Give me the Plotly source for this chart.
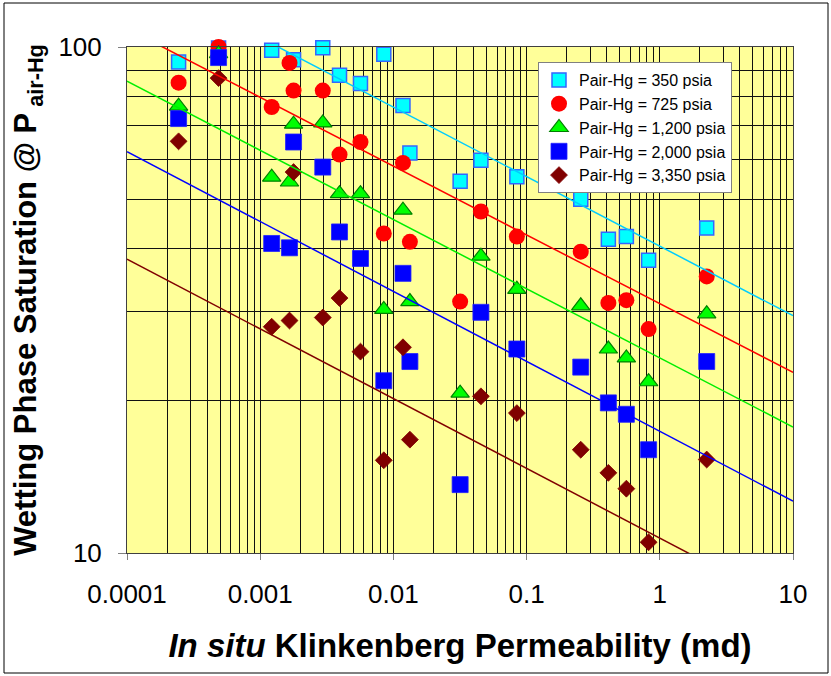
import plotly.graph_objects as go

# ---- data ----
perm = [2.44e-4, 4.87e-4, 1.22e-3, 1.66e-3, 1.78e-3, 2.95e-3, 3.94e-3, 5.66e-3,
        8.47e-3, 1.18e-2, 1.33e-2, 3.17e-2, 4.54e-2, 8.45e-2, 0.255, 0.411,
        0.561, 0.824, 2.25]

sw_350 = [93.4, 99.5, 98.5, None, 94.4, 99.7, 87.9, 84.7, 96.7, 76.6, 61.7,
          54.3, 59.7, 55.4, 50.0, 41.7, 42.2, 37.9, 43.9]
sw_725 = [85.0, 100.0, 76.1, 93.0, 82.0, 82.0, 61.3, 64.9, 42.8, 59.0, 41.2,
          31.4, 47.3, 42.2, 39.4, 31.2, 31.6, 27.7, 35.2]
sw_1200 = [76.4, 97.0, 55.3, 54.1, 70.4, 70.8, 51.3, 51.3, 30.3, 47.6, 31.4,
           20.7, 38.6, 33.2, 30.8, 25.3, 24.3, 21.8, 29.7]
sw_2000 = [72.2, 95.3, 40.9, 40.1, 64.9, 57.9, 43.1, 38.2, 21.9, 35.7, 23.9,
           13.65, 29.9, 25.3, 23.3, 19.8, 18.8, 16.0, 23.9]
sw_3350 = [65.1, 86.8, 28.0, 28.8, 56.6, 29.2, 31.9, 25.0, 15.25, 25.5, 16.75,
           None, 20.4, 18.9, 16.0, 14.4, 13.4, 10.5, 15.3]

series_names = ["Pair-Hg = 350 psia", "Pair-Hg = 725 psia", "Pair-Hg = 1,200 psia",
                "Pair-Hg = 2,000 psia", "Pair-Hg = 3,350 psia"]

# power-law trend lines  S = a * k^b
trend_a = [40.4, 31.1, 24.3, 17.4, 10.7]
trend_b = [-0.1374, -0.1359, -0.1367, -0.1382, -0.1378]
trend_k = [1e-4, 10.0]

x_tickvals = [1e-4, 1e-3, 1e-2, 1e-1, 1, 10]
x_ticktext = ["0.0001", "0.001", "0.01", "0.1", "1", "10"]
y_tickvals = [10, 100]
y_ticktext = ["10", "100"]

# ---- styles ----
series_values = [sw_350, sw_725, sw_1200, sw_2000, sw_3350]
symbols = ["square", "circle", "triangle-up", "square", "diamond"]
fills = ["#00FFFF", "#FF0000", "#00FF00", "#0000FF", "#800000"]
edges = ["#3366FF", "#FF0000", "#008000", "#2020FF", "#800000"]
edge_w = [1.5, 0, 1.2, 0.8, 0.8]
sizes = [14, 16, 16, 16, 13]
line_colors = ["#00CCFF", "#FF0000", "#00EE00", "#0000FF", "#800000"]

FONT = "Liberation Sans, Arial, sans-serif"
W, H = 831, 676
ML, MR, MT, MB = 127, 38, 47, 123

fig = go.Figure()

for vals, name, sym, fc, ec, ew, sz in zip(series_values, series_names, symbols,
                                            fills, edges, edge_w, sizes):
    fig.add_trace(go.Scatter(
        x=perm, y=vals, mode="markers", name=name, cliponaxis=False,
        marker=dict(symbol=sym, size=sz, color=fc,
                    line=dict(color=ec, width=ew)),
    ))

for a, b, lc in zip(trend_a, trend_b, line_colors):
    fig.add_trace(go.Scatter(
        x=trend_k, y=[a * k ** b for k in trend_k], mode="lines",
        line=dict(color=lc, width=1.5), showlegend=False, hoverinfo="skip",
    ))

pw = W - ML - MR
ph = H - MT - MB
def px_to_paper_x(p):
    return (p - ML) / pw
def px_to_paper_y(p):
    return (H - MB - p) / ph

fig.add_shape(type="rect", xref="paper", yref="paper",
              x0=px_to_paper_x(4), x1=px_to_paper_x(828),
              y0=px_to_paper_y(673), y1=px_to_paper_y(3),
              line=dict(color="black", width=1), layer="below")

axis_common = dict(
    type="log", showline=True, mirror=True, linecolor="#404040", linewidth=1,
    showgrid=True, gridcolor="#111111", gridwidth=1,
    ticks="outside", tickcolor="#808080", tickwidth=1,
    tickfont=dict(family=FONT, size=26, color="black"),
    zeroline=False,
    minor=dict(dtick="D1", showgrid=True, gridcolor="#111111", gridwidth=1, ticks=""),
)

fig.update_layout(
    width=W, height=H,
    margin=dict(l=ML, r=MR, t=MT, b=MB, autoexpand=False),
    paper_bgcolor="white", plot_bgcolor="#FFFF99",
    font=dict(family=FONT, color="black"),
    showlegend=True,
    legend=dict(
        x=px_to_paper_x(538), y=px_to_paper_y(62), xanchor="left", yanchor="top",
        bgcolor="white", bordercolor="#808080", borderwidth=1,
        font=dict(family=FONT, size=16, color="black"),
        entrywidth=190, entrywidthmode="pixels",
        tracegroupgap=0,
    ),
    xaxis=dict(axis_common, range=[-4, 1], tickmode="array",
               tickvals=x_tickvals, ticktext=x_ticktext, ticklen=6,
               ticklabelstandoff=12,
               title=dict(text="<i>In situ</i> Klinkenberg Permeability (md)",
                          font=dict(family=FONT, size=33, weight="bold"),
                          standoff=25)),
    yaxis=dict(axis_common, range=[1, 2], tickmode="array",
               tickvals=y_tickvals, ticktext=y_ticktext, ticklen=8,
               ticklabelstandoff=11,
               title=dict(text="Wetting Phase Saturation @ P<sub> air-Hg</sub>",
                          font=dict(family=FONT, size=31, weight="bold"),
                          standoff=12)),
)

fig.write_html("out.html", config={"displayModeBar": False},
               post_script="document.body.style.margin='0';document.body.style.padding='0';")
